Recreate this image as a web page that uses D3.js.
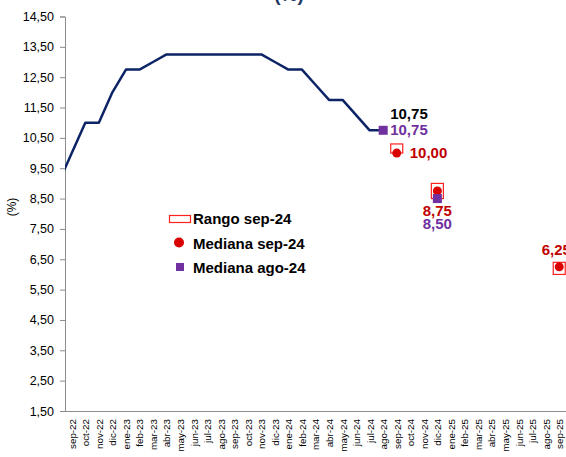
<!DOCTYPE html>
<html>
<head>
  <script src="https://cdnjs.cloudflare.com/ajax/libs/d3/7.8.5/d3.min.js" type="text/javascript"></script>
  <style>
    body { margin: 0; background: #fff; }
    svg { display: block; font-family: "Liberation Sans", Arial, sans-serif; }
    .axis text { font-size: 12.5px; fill: #000; }
    .axis path, .axis line { stroke: #8c8c8c; }
    .lbl { font-size: 15px; font-weight: bold; }
  </style>
</head>
<body>
  <svg id="chart" width="566" height="457"></svg>
  <script>

// policy rate, monthly (first value sits just before the visible axis)
var lineMonths = ["ago-22", "sep-22", "oct-22", "nov-22", "dic-22", "ene-23", "feb-23", "mar-23", "abr-23",
  "may-23", "jun-23", "jul-23", "ago-23", "sep-23", "oct-23", "nov-23", "dic-23", "ene-24", "feb-24",
  "mar-24", "abr-24", "may-24", "jun-24", "jul-24", "ago-24"];
var policyRate = [9.00, 10.00, 11.00, 11.00, 12.00, 12.75, 12.75, 13.00, 13.25,
  13.25, 13.25, 13.25, 13.25, 13.25, 13.25, 13.25, 13.00, 12.75, 12.75,
  12.25, 11.75, 11.75, 11.25, 10.75, 10.75];

var axisMonths = ["sep-22", "oct-22", "nov-22", "dic-22", "ene-23", "feb-23", "mar-23", "abr-23", "may-23",
  "jun-23", "jul-23", "ago-23", "sep-23", "oct-23", "nov-23", "dic-23", "ene-24", "feb-24", "mar-24",
  "abr-24", "may-24", "jun-24", "jul-24", "ago-24", "sep-24", "oct-24", "nov-24", "dic-24", "ene-25",
  "feb-25", "mar-25", "abr-25", "may-25", "jun-25", "jul-25", "ago-25", "sep-25"];

var yTicks = [1.5, 2.5, 3.5, 4.5, 5.5, 6.5, 7.5, 8.5, 9.5, 10.5, 11.5, 12.5, 13.5, 14.5];

// survey: sep-24
var sepMonths = ["sep-24", "dic-24", "sep-25"];
var sepMedian = [10.00, 8.75, 6.25];
var sepLow = [10.00, 8.50, 6.00];
var sepHigh = [10.30, 9.00, 6.40];

// survey: ago-24
var agoMonths = ["ago-24", "dic-24"];
var agoMedian = [10.75, 8.50];

var legendNames = ["Rango sep-24", "Mediana sep-24", "Mediana ago-24"];

var red = "#d80000", redText = "#c00000", purple = "#7030a0", navy = "#0c2466";
var fmt = function(v) { return d3.format(".2f")(v).replace(".", ","); };

var svg = d3.select("#chart");
var plotL = 65, plotR = 566, plotT = 16.5, plotB = 411;

var step = (plotR - plotL) / axisMonths.length;
var x = d3.scalePoint()
  .domain(["ago-22"].concat(axisMonths))
  .range([plotL - step / 2, plotR - step / 2]);

var y = d3.scaleLinear()
  .domain([1.5, 14.5])
  .range([plotB, plotT]);

svg.append("defs").append("clipPath").attr("id", "plot")
  .append("rect").attr("x", plotL).attr("y", 0).attr("width", plotR - plotL).attr("height", plotB);

// y axis
svg.append("g")
  .attr("class", "axis")
  .attr("transform", "translate(" + plotL + ",0)")
  .call(d3.axisLeft(y).tickValues(yTicks).tickFormat(fmt).tickSize(5).tickPadding(6));

// x axis
var xAxis = svg.append("g")
  .attr("class", "axis")
  .attr("transform", "translate(0," + plotB + ")")
  .call(d3.axisBottom(x).tickValues(axisMonths).tickSize(0).tickSizeOuter(0));
xAxis.select(".domain").attr("d", "M" + plotL + ",0.5H" + plotR);
xAxis.selectAll("text")
  .style("font-size", "9.8px")
  .attr("text-anchor", "end")
  .attr("transform", "rotate(-90)")
  .attr("x", -8)
  .attr("y", 0)
  .attr("dy", "0.35em");

svg.append("text")
  .attr("transform", "translate(16,207) rotate(-90)")
  .attr("text-anchor", "middle")
  .style("font-size", "12px")
  .text("(%)");

// title remnant at the top edge
svg.append("text")
  .attr("x", 289).attr("y", 1)
  .attr("text-anchor", "middle")
  .style("font-size", "19px").style("font-weight", "bold").style("fill", "#1f3864")
  .text("(%)");

// policy rate line
var line = d3.line()
  .x(function(d, i) { return x(lineMonths[i]); })
  .y(function(d) { return y(d); });

svg.append("path")
  .datum(policyRate)
  .attr("clip-path", "url(#plot)")
  .attr("d", line)
  .attr("fill", "none")
  .attr("stroke", navy)
  .attr("stroke-width", 2.5)
  .attr("stroke-linejoin", "round");

// range boxes
svg.selectAll(".range")
  .data(sepMonths)
  .enter().append("rect")
  .attr("x", function(d) { return x(d) - 6; })
  .attr("y", function(d, i) { return y(sepHigh[i]); })
  .attr("width", 12)
  .attr("height", function(d, i) { return y(sepLow[i]) - y(sepHigh[i]); })
  .attr("fill", "#fff")
  .attr("stroke", "#ff2020")
  .attr("stroke-width", 1.2);

// median sep-24
svg.selectAll(".med-sep")
  .data(sepMonths)
  .enter().append("circle")
  .attr("cx", function(d) { return x(d); })
  .attr("cy", function(d, i) { return y(sepMedian[i]); })
  .attr("r", 4.5)
  .attr("fill", red);

// median ago-24
svg.selectAll(".med-ago")
  .data(agoMonths)
  .enter().append("rect")
  .attr("x", function(d) { return x(d) - 4.5; })
  .attr("y", function(d, i) { return y(agoMedian[i]) - 4.5; })
  .attr("width", 9)
  .attr("height", 9)
  .attr("fill", purple);

// value labels
var last = policyRate.length - 1;
svg.append("text").attr("class", "lbl")
  .attr("x", x(lineMonths[last]) + 7).attr("y", y(policyRate[last]) - 17)
  .attr("dy", "0.35em").style("fill", "#000")
  .text(fmt(policyRate[last]));

var sepLabelPos = { "sep-24": [13, 0, "start"], "dic-24": [0, 20, "middle"], "sep-25": [-3, -17, "middle"] };
svg.selectAll(".lbl-sep")
  .data(sepMonths)
  .enter().append("text").attr("class", "lbl")
  .attr("x", function(d) { return x(d) + sepLabelPos[d][0]; })
  .attr("y", function(d, i) { return y(sepMedian[i]) + sepLabelPos[d][1]; })
  .attr("dy", "0.35em")
  .attr("text-anchor", function(d) { return sepLabelPos[d][2]; })
  .style("fill", redText)
  .text(function(d, i) { return fmt(sepMedian[i]); });

var agoLabelPos = { "ago-24": [7, -1, "start"], "dic-24": [0, 25, "middle"] };
svg.selectAll(".lbl-ago")
  .data(agoMonths)
  .enter().append("text").attr("class", "lbl")
  .attr("x", function(d) { return x(d) + agoLabelPos[d][0]; })
  .attr("y", function(d, i) { return y(agoMedian[i]) + agoLabelPos[d][1]; })
  .attr("dy", "0.35em")
  .attr("text-anchor", function(d) { return agoLabelPos[d][2]; })
  .style("fill", purple)
  .text(function(d, i) { return fmt(agoMedian[i]); });

// legend
var legend = svg.append("g").attr("transform", "translate(169,219)");
var rows = legend.selectAll("g")
  .data(legendNames)
  .enter().append("g")
  .attr("transform", function(d, i) { return "translate(0," + (i * 24.5) + ")"; });

rows.append("text").attr("class", "lbl")
  .attr("x", 24).attr("dy", "0.35em").style("fill", "#000")
  .text(function(d) { return d; });

rows.filter(function(d, i) { return i === 0; }).append("rect")
  .attr("x", 0.5).attr("y", -3.5).attr("width", 21).attr("height", 7)
  .attr("fill", "#fff").attr("stroke", "#ff2020").attr("stroke-width", 1.2);
rows.filter(function(d, i) { return i === 1; }).append("circle")
  .attr("cx", 10).attr("cy", -1).attr("r", 5).attr("fill", red);
rows.filter(function(d, i) { return i === 2; }).append("rect")
  .attr("x", 7).attr("y", -5).attr("width", 8).attr("height", 8).attr("fill", purple);

  </script>
</body>
</html>
